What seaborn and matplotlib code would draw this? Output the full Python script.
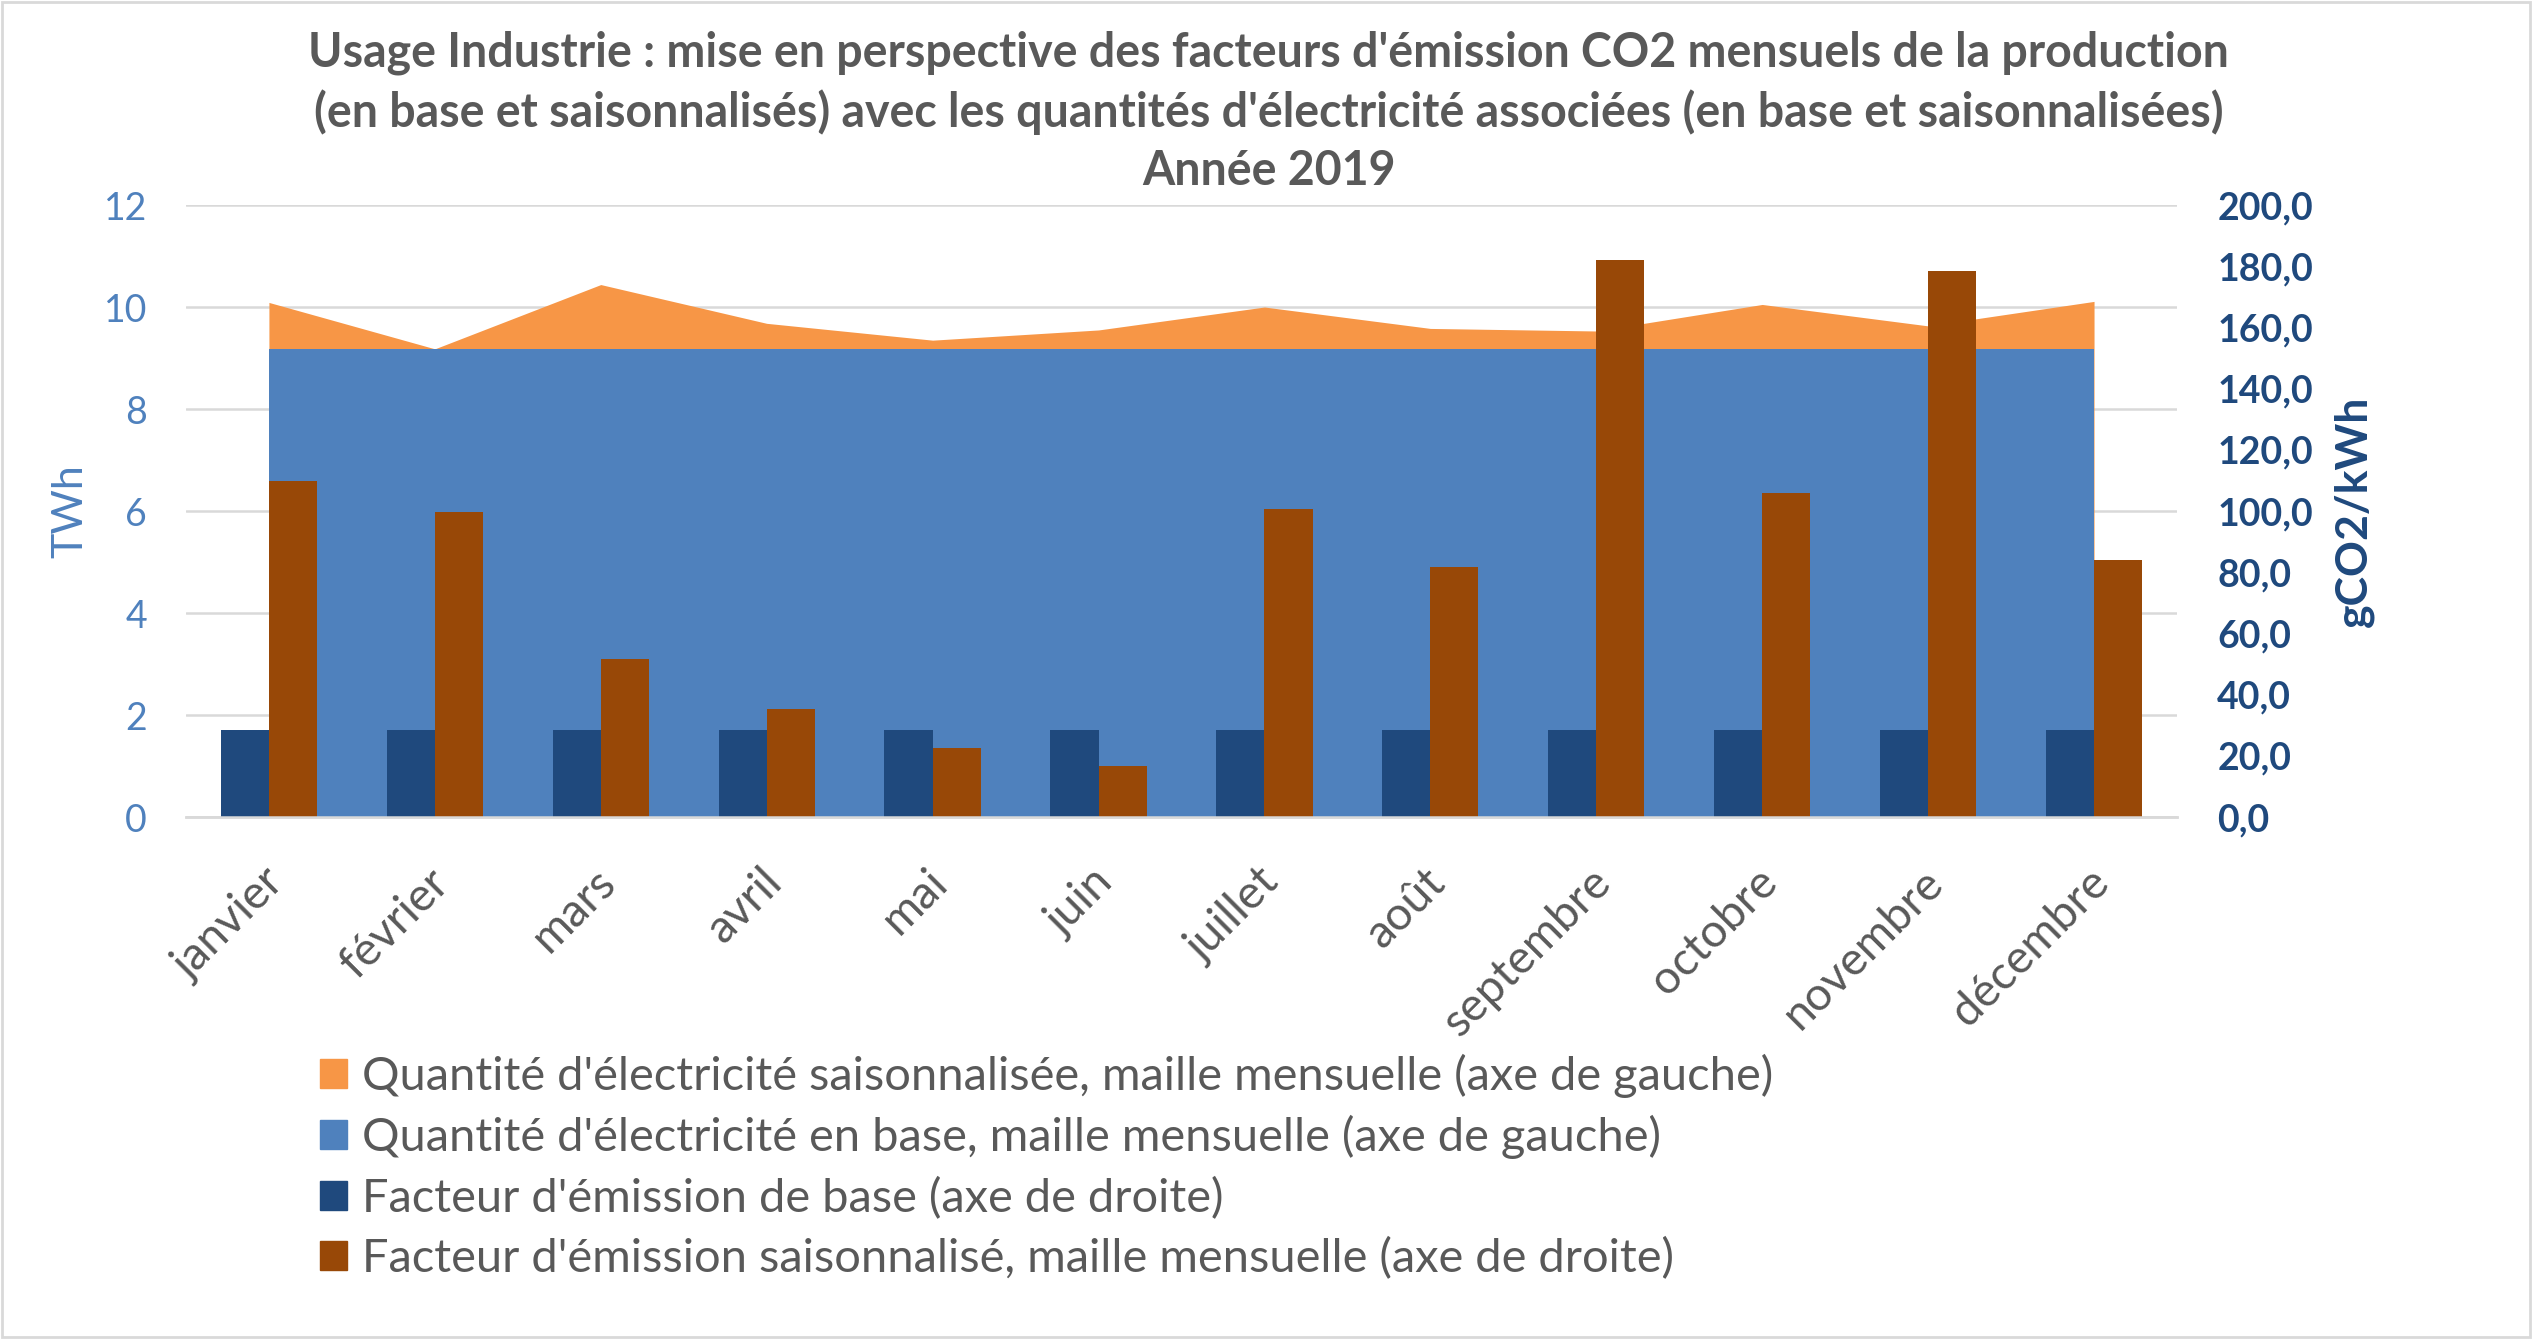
import pandas as pd
import matplotlib
matplotlib.use('Agg')
from matplotlib import pyplot as plt
from matplotlib.patches import Patch, Rectangle
from matplotlib.transforms import ScaledTranslation
import seaborn as sns

# Données (année 2019, usage Industrie)
mois = ['janvier', 'février', 'mars', 'avril', 'mai', 'juin', 'juillet',
        'août', 'septembre', 'octobre', 'novembre', 'décembre']
qte_saison = [10.09, 9.18, 10.44, 9.68, 9.35, 9.55, 10.00, 9.58, 9.53, 10.05, 9.63, 10.11]
qte_base = [9.17, 9.17, 9.17, 9.17, 9.17, 9.17, 9.17, 9.17, 9.17, 9.17, 9.17, 9.17]
fe_base = [28.5, 28.5, 28.5, 28.5, 28.5, 28.5, 28.5, 28.5, 28.5, 28.5, 28.5, 28.5]
fe_saison = [109.7, 99.6, 51.6, 35.3, 22.5, 16.7, 100.6, 81.8, 182.1, 105.9, 178.4, 84.0]

series = ["Quantité d'électricité saisonnalisée, maille mensuelle (axe de gauche)",
          "Quantité d'électricité en base, maille mensuelle (axe de gauche)",
          "Facteur d'émission de base (axe de droite)",
          "Facteur d'émission saisonnalisé, maille mensuelle (axe de droite)"]

ORANGE = '#F79646'
BLEU = '#4F81BD'
BLEU_FONCE = '#1F497D'
BRUN = '#984807'
GRIS = '#595959'
GRILLE = '#D9D9D9'

sns.set_style('white')
plt.rcParams['font.family'] = ['Lato', 'DejaVu Sans']


def build_frames():
    """ Table longue pour les barres (axe de droite) """
    barres = pd.DataFrame({
        'mois': mois * 2,
        'valeur': fe_base + fe_saison,
        'serie': [series[2]] * len(mois) + [series[3]] * len(mois),
    })
    return barres


def main():
    barres = build_frames()

    fig = plt.figure(figsize=(25.37, 13.39), dpi=100)
    ax = fig.add_axes([0.0733, 0.3898, 0.7848, 0.4571])

    # Aires empilées sur l'axe de gauche (TWh)
    x = list(range(len(mois)))
    ax.fill_between(x, 0, qte_saison, color=ORANGE, linewidth=0, zorder=2)
    ax.fill_between(x, 0, qte_base, color=BLEU, linewidth=0, zorder=3)
    ax.set_ylim(0, 12)
    ax.set_yticks(range(0, 13, 2))
    ax.grid(axis='y', color=GRILLE, linewidth=1.8)
    ax.grid(axis='x', visible=False)
    ax.set_axisbelow(True)

    # Barres sur l'axe de droite (gCO2/kWh)
    ax2 = ax.twinx()
    sns.barplot(data=barres, x='mois', y='valeur', hue='serie',
                palette=[BLEU_FONCE, BRUN], saturation=1, width=0.58,
                gap=0, legend=False, linewidth=0, edgecolor='none', ax=ax2)
    ax2.set_ylim(0, 200)
    ax2.set_yticks(range(0, 201, 20))
    ax2.set_yticklabels([f'{v:.1f}'.replace('.', ',') for v in range(0, 201, 20)])
    ax2.grid(False)
    ax.set_xlim(-0.5, len(mois) - 0.5)

    ax.tick_params(axis='x', length=0, pad=42)
    ax.tick_params(axis='y', length=0, pad=28, labelsize=27, labelcolor=BLEU)
    ax2.tick_params(axis='y', length=0, pad=29, labelsize=27, labelcolor=BLEU_FONCE)
    for lab in ax2.get_yticklabels():
        lab.set_fontweight('bold')

    # Étiquettes des mois, inclinées à 45°
    ax.set_xticks(x)
    ax.set_xticklabels(mois, rotation=45, ha='right', va='center',
                       rotation_mode='anchor', fontsize=33.5, color=GRIS)
    decalage = ScaledTranslation(0.08, 0, fig.dpi_scale_trans)
    for lab in ax.get_xticklabels():
        lab.set_transform(lab.get_transform() + decalage)

    for a in (ax, ax2):
        for side in ('left', 'right', 'top'):
            a.spines[side].set_visible(False)
        a.spines['bottom'].set_color(GRILLE)
        a.spines['bottom'].set_linewidth(1.8)

    ax.set_xlabel('')
    ax2.set_xlabel('')
    ax.set_ylabel('TWh', fontsize=31, color=BLEU, rotation=90, va='center', ha='center')
    ax.yaxis.set_label_coords(-0.0583, 0.5)
    ax2.set_ylabel('gCO2/kWh', fontsize=32, color=BLEU_FONCE, fontweight='bold',
                   rotation=90, va='center', ha='center')
    ax2.yaxis.set_label_coords(1.0889, 0.5)

    fig.suptitle("Usage Industrie : mise en perspective des facteurs d'émission CO2 mensuels de la production\n"
                 "(en base et saisonnalisés) avec les quantités d'électricité associées (en base et saisonnalisées)\n"
                 "Année 2019",
                 x=0.5, y=0.9166, va='center', ha='center', fontsize=33.5,
                 fontweight='bold', color=GRIS, linespacing=1.38)

    handles = [Patch(color=ORANGE), Patch(color=BLEU),
               Patch(color=BLEU_FONCE), Patch(color=BRUN)]
    fig.legend(handles, series, loc='upper left', bbox_to_anchor=(0.126, 0.2131),
               frameon=False, borderaxespad=0, borderpad=0, handlelength=0.575,
               handleheight=0.575, handletextpad=0.32, labelspacing=0.37,
               fontsize=33.8, labelcolor=GRIS)

    # Cadre gris du graphique
    fig.patches.append(Rectangle((0.0006, 0.0015), 0.9966, 0.997, transform=fig.transFigure,
                                 fill=False, edgecolor=GRILLE, linewidth=2))

    fig.savefig('out.png', dpi=100)


if __name__ == "__main__":
    main()
